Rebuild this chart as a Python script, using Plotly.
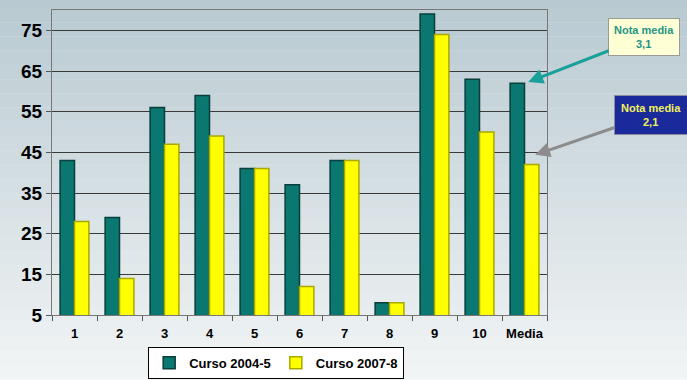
import plotly.graph_objects as go

categories = ['1', '2', '3', '4', '5', '6', '7', '8', '9', '10', 'Media']
curso_2004 = [43, 29, 56, 59, 41, 37, 43, 8, 79, 63, 62]
curso_2007 = [28, 14, 47, 49, 41, 12, 43, 8, 74, 50, 42]
y_ticks = [5, 15, 25, 35, 45, 55, 65, 75]

FONT = 'Arial, Liberation Sans, sans-serif'
TEAL = '#0b7771'
YELLOW = '#ffff00'

fig = go.Figure()

fig.add_trace(go.Bar(
    x=categories, y=curso_2004, name='Curso 2004-5',
    marker={'color': TEAL, 'line': {'color': '#063f3c', 'width': 1.5}},
))
fig.add_trace(go.Bar(
    x=categories, y=curso_2007, name='Curso 2007-8',
    marker={'color': YELLOW, 'line': {'color': '#a8a800', 'width': 1.5}},
))

# fake vertical gradient behind everything
top = (182, 200, 208)
bottom = (246, 248, 248)
n = 30
for i in range(n):
    t = i / (n - 1)
    c = tuple(int(top[k] + (bottom[k] - top[k]) * t) for k in range(3))
    fig.add_shape(
        type='rect', xref='paper', yref='paper', layer='below',
        x0=-0.2, x1=1.4, y0=1.1 - (i + 1) * 1.4 / n, y1=1.1 - i * 1.4 / n,
        fillcolor='rgb(%d,%d,%d)' % c, line={'width': 0},
    )

# callouts
fig.add_annotation(
    xref='paper', yref='paper', x=0.962, y=0.764,
    ax=116, ay=-45,
    text='<b>Nota media<br>3,1</b>',
    font={'family': FONT, 'size': 11, 'color': '#1f9486'},
    bgcolor='#ffffd6', bordercolor='#9a9a9a', borderwidth=1, borderpad=5,
    showarrow=True, arrowhead=2, arrowsize=1, arrowwidth=3, arrowcolor='#1aa09a',
)
fig.add_annotation(
    xref='paper', yref='paper', x=0.976, y=0.525,
    ax=116, ay=-40,
    text='<b>Nota media<br>2,1</b>',
    font={'family': FONT, 'size': 11, 'color': '#f2f060'},
    bgcolor='#1a2a9a', bordercolor='#8a8aa0', borderwidth=1, borderpad=6,
    showarrow=True, arrowhead=2, arrowsize=1, arrowwidth=3, arrowcolor='#8c8c8c',
)

fig.update_layout(
    width=687, height=380,
    margin={'l': 52, 'r': 140, 't': 10, 'b': 65},
    paper_bgcolor='#dfe6e9',
    plot_bgcolor='rgba(0,0,0,0)',
    barmode='group', bargap=0.36, bargroupgap=0,
    font={'family': FONT, 'color': 'black'},
    showlegend=True,
    legend={
        'orientation': 'h', 'x': 0.402, 'xanchor': 'center',
        'xref': 'container', 'yref': 'container',
        'y': 0.003, 'yanchor': 'bottom',
        'bgcolor': 'white', 'bordercolor': 'black', 'borderwidth': 1,
        'font': {'family': FONT, 'size': 13, 'weight': 'bold'},
        'itemwidth': 30, 'tracegroupgap': 0,
    },
)
fig.update_xaxes(
    type='category', tickson='boundaries', ticks='outside', ticklen=5,
    tickcolor='#555', showline=True, linecolor='#777', mirror=True,
    tickangle=0, ticklabelstandoff=6, automargin=False,
    tickfont={'family': FONT, 'size': 13, 'weight': 'bold'},
    showgrid=False,
)
fig.update_yaxes(
    range=[5, 80], tickvals=y_ticks, ticks='outside', ticklen=5,
    tickcolor='#555', showline=True, linecolor='#777', mirror=True,
    showgrid=True, gridcolor='#3a3a3a', gridwidth=1, automargin=False,
    tickfont={'family': FONT, 'size': 19, 'weight': 'bold'},
)

# page body has a default 8px margin, drop it so the figure sits at 0,0
fig.write_html('out.html', config={'displayModeBar': False},
               post_script="document.body.style.margin='0px';")
